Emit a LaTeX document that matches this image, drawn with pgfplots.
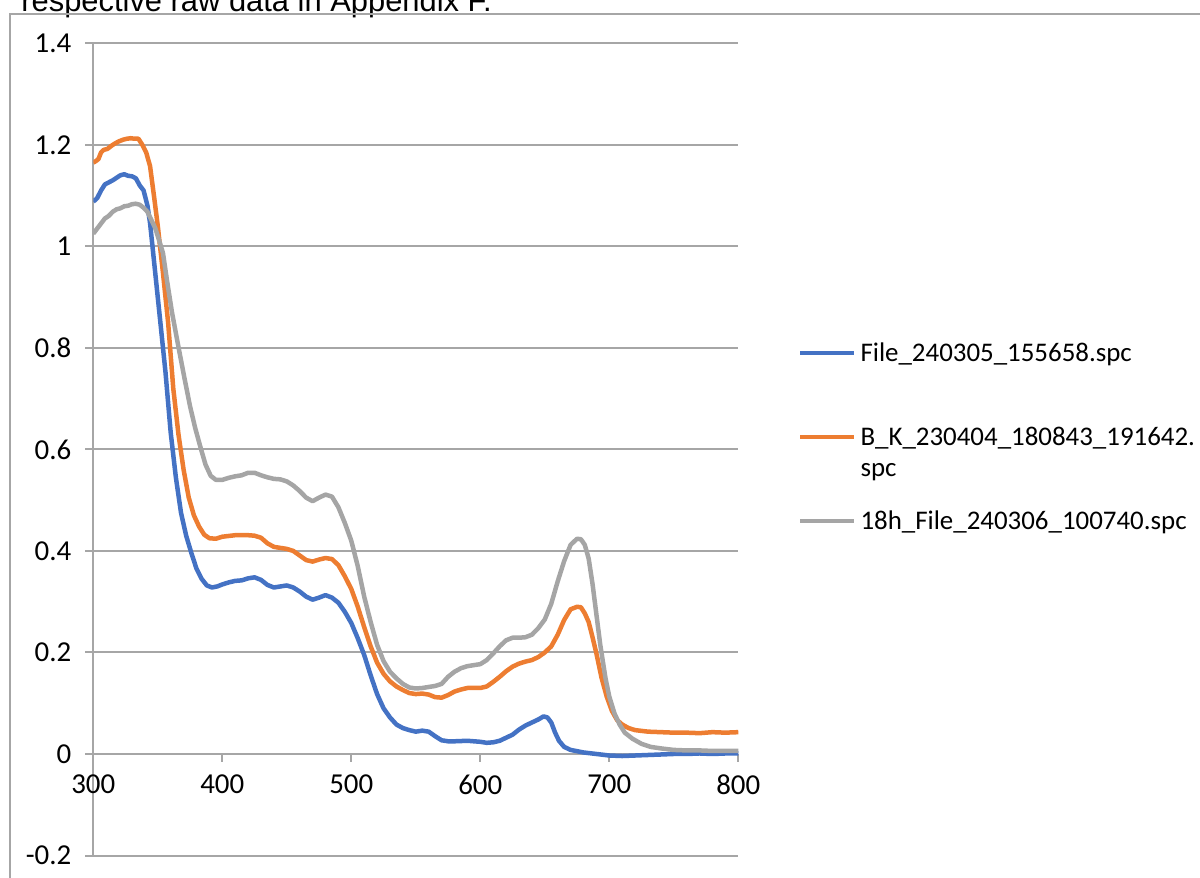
\documentclass[border=0pt]{standalone}
\usepackage{fontspec}
\setmainfont{Carlito}
\newfontfamily\arialfont{Liberation Sans}
\usepackage{pgfplots}
\pgfplotsset{compat=1.18}
\definecolor{sblue}{RGB}{68,114,196}
\definecolor{sorange}{RGB}{237,125,49}
\definecolor{sgray}{RGB}{165,165,165}
\definecolor{gridgray}{RGB}{166,166,166}

\begin{document}
\begin{tikzpicture}
\useasboundingbox (0,0) rectangle (600bp,-439bp);
\node[anchor=base west,inner sep=0pt,font=\arialfont\fontsize{15.5}{18}\selectfont] at (10.5bp,-5.5bp) {respective raw data in Appendix F.};
\draw[gridgray,line width=1bp] (5bp,-450bp) -- (5bp,-6.75bp) -- (610bp,-6.75bp);
\begin{axis}[
  scale only axis,width=322.5bp,height=406.1bp,
  at={(46.65bp,-427.75bp)},anchor=south west,
  xmin=300,xmax=800,ymin=-0.2,ymax=1.4,
  xtick={300,400,500,600,700,800},
  ytick={-0.2,0,0.2,0.4,0.6,0.8,1,1.2,1.4},
  axis x line=middle,axis y line=left,
  hide obscured x ticks=false,
  axis line style={gridgray,line width=1bp,-},
  ymajorgrids,grid style={gridgray,line width=1bp},
  tick style={gridgray,line width=1bp},
  xtick align=outside,ytick align=outside,
  major tick length=4bp,
  /pgf/number format/assume math mode=true,
  tick label style={font=\fontsize{14.5}{17}\selectfont,text=black},
  xticklabel style={yshift=-3bp},
  yticklabel style={xshift=-3.5bp},
  every axis plot/.append style={line width=2.25bp,line join=round},
  legend style={at={(1.0926,0.638)},anchor=north west,draw=none,fill=none,
    inner sep=0pt,outer sep=0pt,row sep=9.5bp,column sep=2bp,
    cells={anchor=base west},nodes={inner sep=0pt},
    font=\fontsize{13.5}{15.8}\selectfont},
  legend image code/.code={\path[draw=none,fill=none] (0bp,-20.5bp) rectangle (27bp,12bp);
    \draw[#1] (0bp,4.2bp) -- (27bp,4.2bp);},
]
\addplot[sblue] coordinates {
(300,1.088)(303,1.095)(306,1.110)(309,1.122)(312,1.126)(315,1.130)(318,1.135)(321,1.140)
(324,1.142)(327,1.139)(330,1.138)(333,1.134)(336,1.120)(339,1.110)(342,1.080)(344,1.046)
(348,0.948)(352,0.850)(356,0.751)(360,0.633)(364,0.545)(368,0.475)(372,0.430)(376,0.396)
(380,0.365)(384,0.345)(388,0.332)(392,0.328)(396,0.330)(400,0.334)(405,0.338)(410,0.341)
(415,0.342)(420,0.346)(425,0.348)(430,0.343)(435,0.333)(440,0.328)(445,0.330)(450,0.332)
(455,0.328)(460,0.320)(465,0.310)(470,0.304)(475,0.308)(480,0.313)(485,0.308)(490,0.298)
(495,0.280)(500,0.258)(505,0.228)(510,0.195)(515,0.155)(520,0.118)(525,0.090)(530,0.072)
(535,0.058)(540,0.051)(545,0.047)(550,0.044)(555,0.046)(560,0.044)(565,0.035)(570,0.027)
(575,0.025)(580,0.025)(590,0.026)(600,0.024)(605,0.022)(610,0.023)(615,0.026)(620,0.032)
(625,0.038)(630,0.048)(635,0.056)(640,0.062)(645,0.068)(649,0.074)(652,0.072)(655,0.062)
(658,0.042)(661,0.026)(665,0.014)(670,0.008)(680,0.003)(690,0.000)(700,-0.003)(710,-0.004)
(720,-0.003)(730,-0.002)(740,-0.001)(750,0.000)(760,0.000)(770,0.001)(780,0.000)(790,0.001)(800,0.001)};
\addlegendentry{File\_240305\_155658.spc}
\addplot[sorange] coordinates {
(300,1.165)(302,1.168)(304,1.172)(306,1.185)(308,1.190)(311,1.192)(314,1.198)(317,1.203)
(320,1.207)(323,1.210)(326,1.212)(329,1.213)(332,1.212)(335,1.212)(338,1.200)(341,1.185)
(344,1.158)(347,1.100)(350,1.040)(354,0.948)(358,0.850)(362,0.720)(366,0.630)(370,0.560)
(374,0.505)(378,0.470)(382,0.448)(386,0.432)(390,0.425)(395,0.424)(400,0.428)(410,0.431)
(420,0.431)(425,0.430)(430,0.426)(435,0.415)(440,0.408)(450,0.404)(455,0.400)(460,0.391)
(465,0.382)(470,0.379)(475,0.383)(480,0.386)(485,0.384)(490,0.372)(495,0.350)(500,0.325)
(505,0.290)(510,0.250)(515,0.212)(520,0.180)(525,0.158)(530,0.143)(535,0.133)(540,0.126)
(545,0.120)(550,0.118)(555,0.119)(560,0.117)(565,0.112)(570,0.111)(575,0.116)(580,0.123)
(585,0.127)(590,0.130)(595,0.130)(600,0.130)(605,0.133)(610,0.142)(615,0.152)(620,0.163)
(625,0.172)(630,0.178)(635,0.182)(640,0.185)(645,0.191)(650,0.200)(655,0.212)(660,0.235)
(665,0.264)(670,0.285)(675,0.290)(678,0.289)(681,0.277)(684,0.260)(687,0.230)(690,0.198)
(694,0.150)(698,0.113)(702,0.085)(706,0.067)(710,0.058)(715,0.051)(720,0.047)(730,0.044)
(740,0.043)(750,0.042)(760,0.042)(770,0.041)(780,0.043)(790,0.042)(800,0.043)};
\addlegendentry{\begin{tabular}[t]{@{}l@{}}B\_K\_230404\_180843\_191642.\\spc\end{tabular}}
\addplot[sgray] coordinates {
(300,1.025)(303,1.035)(306,1.045)(309,1.055)(312,1.060)(315,1.068)(318,1.073)(321,1.075)
(324,1.079)(327,1.080)(330,1.083)(333,1.084)(336,1.082)(339,1.076)(342,1.068)(345,1.052)
(348,1.036)(351,1.012)(354,0.987)(357,0.935)(361,0.870)(366,0.802)(371,0.736)(375,0.685)
(379,0.642)(383,0.605)(387,0.570)(391,0.548)(395,0.540)(400,0.540)(405,0.544)(410,0.547)
(415,0.549)(420,0.554)(425,0.554)(430,0.549)(435,0.545)(440,0.542)(445,0.541)(450,0.537)
(455,0.529)(460,0.518)(465,0.505)(470,0.498)(475,0.505)(480,0.511)(485,0.507)(490,0.486)
(495,0.455)(500,0.420)(505,0.370)(510,0.310)(515,0.260)(520,0.215)(525,0.183)(530,0.162)
(535,0.149)(540,0.138)(545,0.131)(550,0.129)(555,0.130)(560,0.132)(565,0.134)(570,0.138)
(575,0.152)(580,0.162)(585,0.169)(590,0.173)(595,0.175)(600,0.177)(605,0.185)(610,0.198)
(615,0.212)(620,0.224)(625,0.229)(630,0.229)(635,0.230)(640,0.235)(645,0.248)(650,0.265)
(655,0.296)(660,0.340)(665,0.380)(670,0.412)(675,0.424)(678,0.423)(681,0.412)(684,0.385)
(687,0.335)(690,0.275)(693,0.215)(697,0.150)(700,0.113)(704,0.080)(708,0.058)(712,0.042)
(718,0.030)(725,0.020)(732,0.014)(740,0.011)(750,0.008)(760,0.007)(770,0.007)(780,0.006)
(790,0.006)(800,0.006)};
\addlegendentry{18h\_File\_240306\_100740.spc}
\end{axis}
\end{tikzpicture}
\end{document}
